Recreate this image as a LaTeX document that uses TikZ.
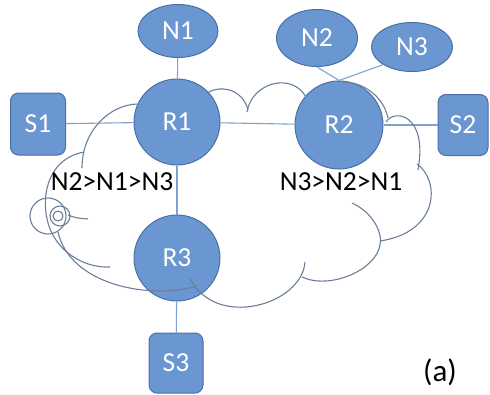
\documentclass[tikz,border=0pt]{standalone}
\usepackage{fontspec}
\setmainfont{Carlito}
\usetikzlibrary{shapes.geometric}
\definecolor{nodefill}{HTML}{6A96D2}
\definecolor{nodeedge}{HTML}{4A70A6}
\definecolor{linkcol}{HTML}{7FA2D0}
\definecolor{cloudcol}{HTML}{6B7E99}
\tikzset{
  base/.style={fill=nodefill, draw=nodeedge, line width=1pt, text=white,
    font=\fontsize{27.5}{27.5}\selectfont, inner sep=0pt},
  host/.style={base, ellipse},
  router/.style={base, circle},
  server/.style={base, rectangle, rounded corners=8pt},
  link/.style={draw=linkcol, line width=1.1pt},
  cloudline/.style={draw=cloudcol, line width=1.1pt},
  rank/.style={font=\fontsize{27.5}{27.5}\selectfont, text=black}
}
\begin{document}
\begin{tikzpicture}[x=1pt,y=-1pt]
\useasboundingbox (0,0) rectangle (490,394);

% end hosts
\node[host, minimum width=80pt, minimum height=53pt] (N1) at (178,31) {N1};
\node[host, minimum width=81pt, minimum height=57pt] (N2) at (317,38) {N2};
\node[host, minimum width=81pt, minimum height=49pt] (N3) at (412,47) {N3};

% routers
\node[router, minimum size=86pt] (R1) at (177,122) {R1};
\node[router, minimum size=88pt] (R2) at (339,125) {R2};
\node[router, minimum size=86pt] (R3) at (177,258) {R3};

% servers
\node[server, minimum width=55pt, minimum height=62pt] (S1) at (38,124) {S1};
\node[server, minimum width=50pt, minimum height=61pt] (S2) at (463,125) {S2};
\node[server, minimum width=54pt, minimum height=60pt] (S3) at (176,363) {S3};

% links
\draw[link] (N1) -- (R1);
\draw[link] (S1) -- (R1);
\draw[link] (R1) -- (R2);
\draw[link] (R2) -- (S2);
\draw[link] (R1) -- (R3);
\draw[link] (R3) -- (S3);
\draw[link] (N2.south) -- (R2.north);
\draw[link] (N3.south west) -- (R2.north);

% cloud outline, one bump at a time
\draw[cloudline] (207,93) .. controls (222,84) and (243,90) .. (248,110);
\draw[cloudline] (247,112) .. controls (252,82) and (292,72) .. (306,97);
\draw[cloudline] (343,82) .. controls (362,82) and (383,95) .. (388,118);
\draw[cloudline] (386,122) .. controls (395,108) and (428,115) .. (418,170);
\draw[cloudline] (417,164) .. controls (440,180) and (440,232) .. (380,241);
\draw[cloudline] (352,203) .. controls (372,212) and (383,232) .. (380,245)
                 .. controls (376,270) and (330,290) .. (302,277);
\draw[cloudline] (305,262) .. controls (302,305) and (215,330) .. (190,278);
\draw[cloudline] (197,286) .. controls (150,300) and (70,285) .. (58,232);
\draw[cloudline] (84,152) .. controls (40,160) and (38,215) .. (56,240)
                 .. controls (68,258) and (90,268) .. (110,267);
\draw[cloudline] (82,168) .. controls (82,130) and (110,105) .. (137,104);
% small rings on the left edge
\draw[cloudline] (48,216) circle (18pt);
\draw[cloudline] (60,216) circle (10pt);
\draw[cloudline] (58,216) circle (5pt);
\draw[cloudline] (68,215) .. controls (76,218) .. (88,219);

% preference orders
\node[rank] (P1) at (112,182) {N2>N1>N3};
\node[rank] (P2) at (341,182) {N3>N2>N1};
\node[font=\fontsize{31}{31}\selectfont] (lab) at (440,372) {(a)};
\end{tikzpicture}
\end{document}
